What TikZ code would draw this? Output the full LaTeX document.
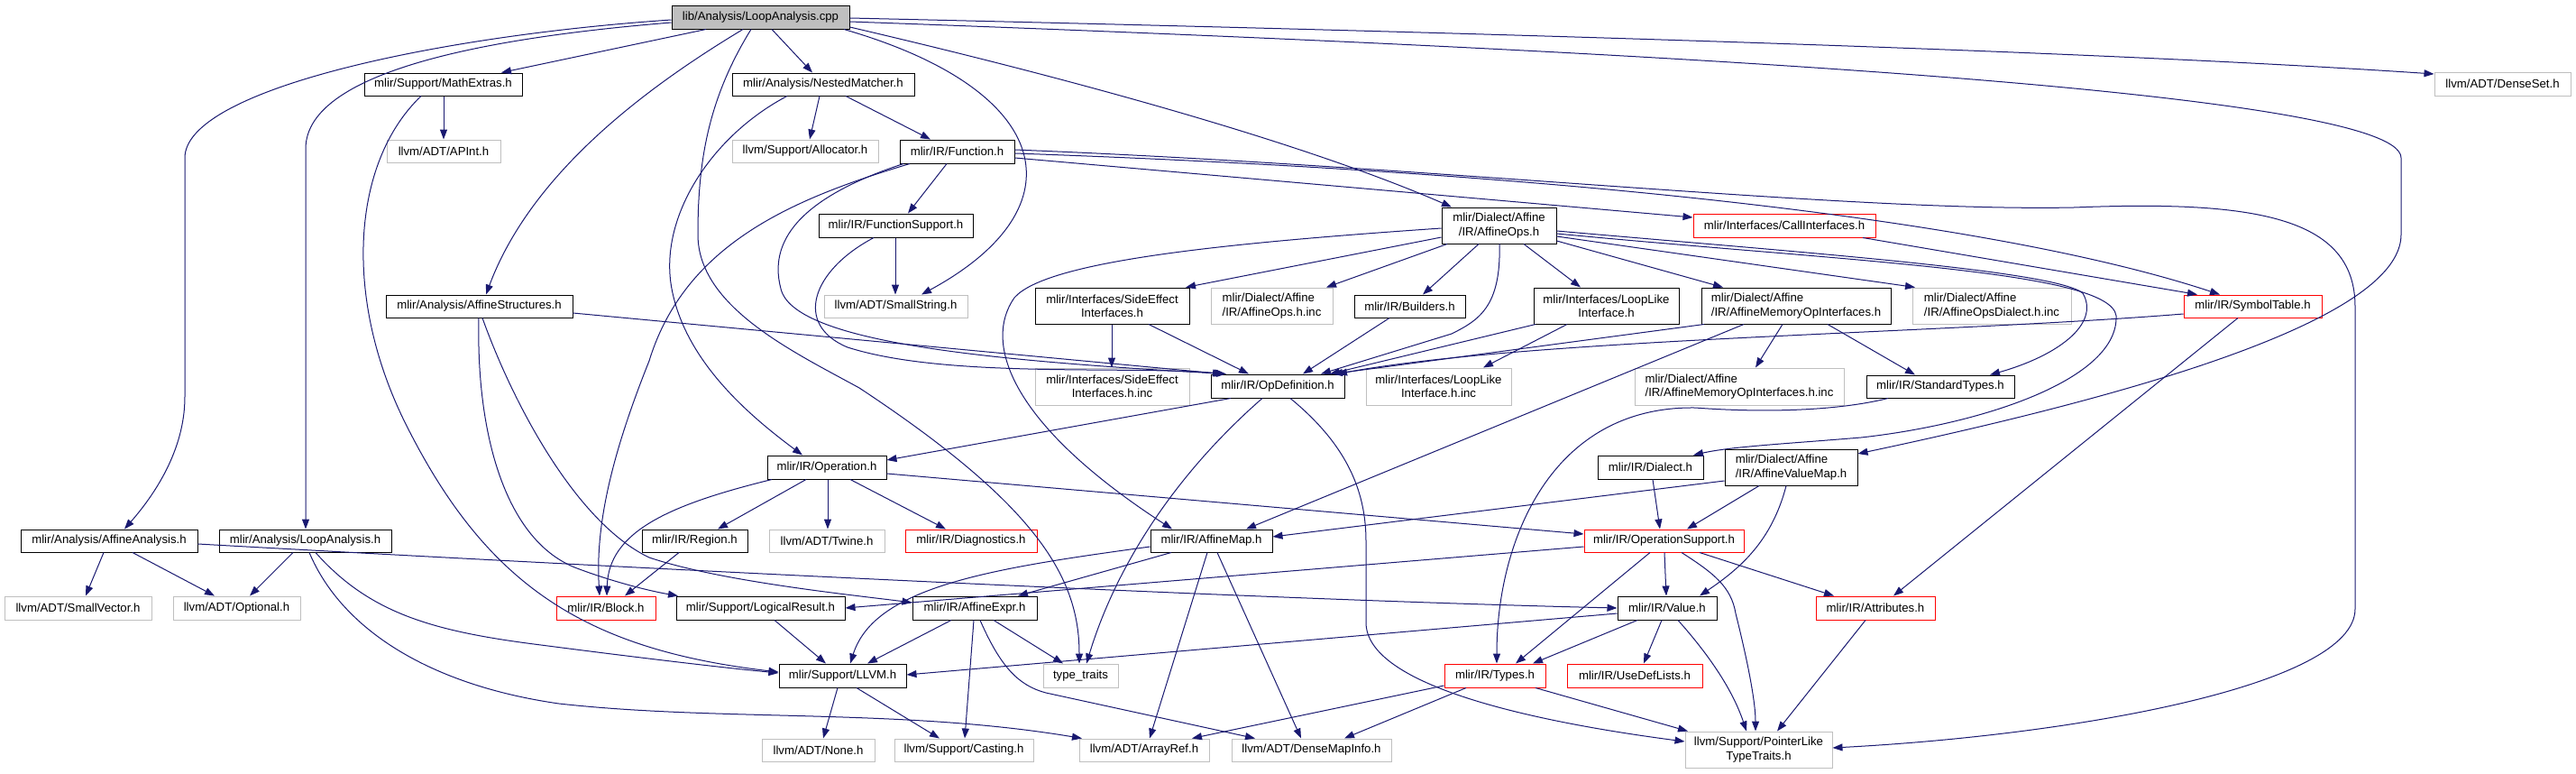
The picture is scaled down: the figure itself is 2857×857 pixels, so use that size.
\documentclass[tikz,border=0pt]{standalone}
\usepackage{fontspec}
\setmainfont{Liberation Sans}
\usetikzlibrary{arrows.meta}
\definecolor{edgeblue}{RGB}{25,25,112}
\definecolor{grayb}{RGB}{191,191,191}
\definecolor{rootgray}{RGB}{191,191,191}
\newcommand\fs{\fontsize{13.2}{15.3}\selectfont}
\newcommand\bx[7]{\node[#1,minimum width={#5-#3},minimum height={#6-#4}] (#2) at ({(#3+#5)/2},{(#4+#6)/2}) {#7};}
\tikzset{
  box/.style={draw, line width=1pt, inner sep=0pt, font=\fs, align=center, fill=white},
  blk/.style={box, draw=black},
  gry/.style={box, draw=grayb},
  rbox/.style={box, draw=red},
  rt/.style={box, draw=black, fill=rootgray},
  lft/.style={align=left},
  ln/.style={draw=edgeblue, line width=1pt, -{Triangle[length=11pt,width=8pt]}}
}
\begin{document}
\begin{tikzpicture}[x=1pt,y=-1pt]
\useasboundingbox (0,0) rectangle (2857,857);
% nodes
\bx{rt}{root}{745}{6}{942}{32}{lib/Analysis/LoopAnalysis.cpp}
\bx{blk}{math}{404}{81}{579}{106}{mlir/Support/MathExtras.h}
\bx{blk}{nested}{812}{81}{1014}{106}{mlir/Analysis/NestedMatcher.h}
\bx{gry}{denseset}{2700}{80}{2851}{106}{llvm/ADT/DenseSet.h}
\bx{gry}{apint}{429}{155}{555}{180}{llvm/ADT/APInt.h}
\bx{gry}{alloc}{812}{155}{974}{180}{llvm/Support/Allocator.h}
\bx{blk}{func}{998}{155}{1125}{181}{mlir/IR/Function.h}
\bx{blk}{funcsup}{908}{237}{1079}{263}{mlir/IR/FunctionSupport.h}
\bx{rbox}{callif}{1878}{237}{2080}{263}{mlir/Interfaces/CallInterfaces.h}
\bx{blk}{affops}{1599}{230}{1726}{270}{mlir/Dialect/Affine\\/IR/AffineOps.h}
\bx{blk}{affstruct}{428}{327}{635}{352}{mlir/Analysis/AffineStructures.h}
\bx{gry}{smallstr}{914}{327}{1073}{352}{llvm/ADT/SmallString.h}
\bx{blk}{sideeff}{1148}{319}{1319}{359}{mlir/Interfaces/SideEffect\\Interfaces.h}
\bx{gry,lft}{affopsinc}{1343}{319}{1478}{359}{mlir/Dialect/Affine\\/IR/AffineOps.h.inc}
\bx{blk}{builders}{1502}{327}{1625}{352}{mlir/IR/Builders.h}
\bx{blk}{looplike}{1701}{319}{1862}{359}{mlir/Interfaces/LoopLike\\Interface.h}
\bx{blk,lft}{affmem}{1887}{319}{2097}{359}{mlir/Dialect/Affine\\/IR/AffineMemoryOpInterfaces.h}
\bx{gry,lft}{affdialinc}{2121}{319}{2297}{359}{mlir/Dialect/Affine\\/IR/AffineOpsDialect.h.inc}
\bx{rbox}{symtab}{2422}{327}{2575}{352}{mlir/IR/SymbolTable.h}
\bx{blk}{opdef}{1343}{415}{1491}{441}{mlir/IR/OpDefinition.h}
\bx{gry}{sideinc}{1148}{408}{1319}{449}{mlir/Interfaces/SideEffect\\Interfaces.h.inc}
\bx{gry}{loopinc}{1515}{408}{1676}{449}{mlir/Interfaces/LoopLike\\Interface.h.inc}
\bx{gry,lft}{affmeminc}{1813}{408}{2045}{449}{mlir/Dialect/Affine\\/IR/AffineMemoryOpInterfaces.h.inc}
\bx{blk}{stdtypes}{2070}{416}{2234}{441}{mlir/IR/StandardTypes.h}
\bx{blk}{operation}{851}{505}{983}{531}{mlir/IR/Operation.h}
\bx{blk}{dialect}{1772}{505}{1889}{531}{mlir/IR/Dialect.h}
\bx{blk,lft}{affvmap}{1913}{498}{2060}{538}{mlir/Dialect/Affine\\/IR/AffineValueMap.h}
\bx{blk}{affana}{23}{587}{219}{612}{mlir/Analysis/AffineAnalysis.h}
\bx{blk}{loopana}{243}{587}{434}{612}{mlir/Analysis/LoopAnalysis.h}
\bx{blk}{region}{712}{587}{829}{612}{mlir/IR/Region.h}
\bx{gry}{twine}{853}{587}{981}{612}{llvm/ADT/Twine.h}
\bx{rbox}{diag}{1004}{587}{1150}{612}{mlir/IR/Diagnostics.h}
\bx{blk}{affmap}{1276}{587}{1411}{612}{mlir/IR/AffineMap.h}
\bx{rbox}{opsup}{1757}{587}{1934}{612}{mlir/IR/OperationSupport.h}
\bx{gry}{smallvec}{5}{661}{168}{687}{llvm/ADT/SmallVector.h}
\bx{gry}{optional}{192}{661}{333}{687}{llvm/ADT/Optional.h}
\bx{rbox}{block}{617}{661}{727}{687}{mlir/IR/Block.h}
\bx{blk}{logres}{750}{661}{937}{687}{mlir/Support/LogicalResult.h}
\bx{blk}{affexpr}{1012}{661}{1150}{687}{mlir/IR/AffineExpr.h}
\bx{blk}{value}{1794}{661}{1904}{687}{mlir/IR/Value.h}
\bx{rbox}{attrs}{2014}{661}{2146}{687}{mlir/IR/Attributes.h}
\bx{blk}{llvmh}{864}{736}{1005}{762}{mlir/Support/LLVM.h}
\bx{gry}{typetraits}{1157}{736}{1240}{762}{type\_traits}
\bx{rbox}{types}{1602}{736}{1714}{762}{mlir/IR/Types.h}
\bx{rbox}{usedef}{1738}{736}{1888}{762}{mlir/IR/UseDefLists.h}
\bx{gry}{none}{845}{819}{970}{844}{llvm/ADT/None.h}
\bx{gry}{casting}{992}{819}{1146}{844}{llvm/Support/Casting.h}
\bx{gry}{arrayref}{1197}{819}{1341}{844}{llvm/ADT/ArrayRef.h}
\bx{gry}{densemap}{1366}{819}{1543}{844}{llvm/ADT/DenseMapInfo.h}
\bx{gry}{ptrlike}{1869}{811}{2032}{851}{llvm/Support/PointerLike\\TypeTraits.h}
% edges from root
\draw[ln] (root.west |- 0,22) .. controls (480,40) and (205,100) .. (205,175) -- (205,440) .. controls (205,500) and (170,550) .. (affana.north -| 138,0);
\draw[ln] (root.west |- 0,25) .. controls (560,40) and (339,75) .. (339,165) -- (loopana.north -| 339,0);
\draw[ln] (root.south -| 783,0) -- (math.north -| 556,0);
\draw[ln] (root.south -| 824,0) .. controls (720,95) and (590,190) .. (affstruct.north -| 539,0);
\draw[ln] (root.south -| 856,0) -- (nested.north -| 901,0);
\draw[ln] (root.south -| 833,0) .. controls (785,110) and (774,180) .. (774,260) .. controls (774,340) and (880,390) .. (953,430) .. controls (1150,560) and (1197,640) .. (typetraits.north -| 1197,0);
\draw[ln] (root.south -| 936,0) .. controls (1170,100) and (1200,230) .. (smallstr.north -| 1022,0);
\draw[ln] (root.east |- 0,30) .. controls (1200,90) and (1450,160) .. (affops.north -| 1610,0);
\draw[ln] (root.east |- 0,20) .. controls (1600,35) and (2300,55) .. (denseset.west |- 0,82);
\draw[ln] (root.east |- 0,24) .. controls (1800,55) and (2663,100) .. (2663,175) -- (2663,260) .. controls (2663,330) and (2500,410) .. (affvmap.east |- 0,503);
% math, nested
\draw[ln] (math.south -| 492,0) -- (apint.north -| 492,0);
\draw[ln] (math.south -| 467,0) .. controls (390,180) and (380,330) .. (450,470) .. controls (540,650) and (650,720) .. (llvmh.west |- 0,745);
\draw[ln] (nested.south -| 909,0) -- (alloc.north -| 898,0);
\draw[ln] (nested.south -| 938,0) -- (func.north -| 1032,0);
\draw[ln] (nested.south -| 873,0) .. controls (790,150) and (730,240) .. (745,320) .. controls (760,400) and (830,460) .. (operation.north -| 890,0);
% function
\draw[ln] (func.south -| 1050,0) -- (funcsup.north -| 1007,0);
\draw[ln] (func.south -| 1009,0) .. controls (880,220) and (760,270) .. (720,400) .. controls (680,500) and (660,580) .. (block.north -| 665,0);
\draw[ln] (func.south -| 1002,0) .. controls (900,215) and (850,260) .. (866,320) .. controls (880,380) and (1100,400) .. (opdef.north -| 1360,0);
\draw[ln] (func.east |- 0,170) .. controls (1700,190) and (2200,240) .. (symtab.north -| 2462,0);
\draw[ln] (func.east |- 0,175) -- (callif.west |- 0,241);
\draw[ln] (func.east |- 0,166) .. controls (1600,185) and (2050,235) .. (2300,230) .. controls (2500,222) and (2612,240) .. (2612,340) -- (2612,675) .. controls (2612,760) and (2300,815) .. (ptrlike.east |- 0,829);
\draw[ln] (funcsup.south -| 993,0) -- (smallstr.north -| 993,0);
\draw[ln] (funcsup.south -| 969,0) .. controls (900,300) and (880,360) .. (940,385) .. controls (1050,420) and (1250,405) .. (opdef.north -| 1358,0);
\draw[ln] (callif.south -| 2066,0) -- (symtab.north -| 2437,0);
% affine ops
\draw[ln] (affops.west |- 0,263) -- (sideeff.north -| 1315,0);
\draw[ln] (affops.south -| 1605,0) -- (affopsinc.north -| 1471,0);
\draw[ln] (affops.south -| 1640,0) -- (builders.north -| 1578,0);
\draw[ln] (affops.south -| 1663,0) .. controls (1665,340) and (1640,355) .. (1610,370) -- (opdef.north -| 1465,0);
\draw[ln] (affops.south -| 1690,0) -- (looplike.north -| 1753,0);
\draw[ln] (affops.east |- 0,267) -- (affmem.north -| 1911,0);
\draw[ln] (affops.east |- 0,262) -- (affdialinc.north -| 2124,0);
\draw[ln] (affops.east |- 0,256) .. controls (2000,280) and (2280,300) .. (2310,325) .. controls (2330,360) and (2280,395) .. (stdtypes.north -| 2207,0);
\draw[ln] (affops.east |- 0,259) .. controls (2050,290) and (2340,300) .. (2347,350) .. controls (2350,420) and (2200,470) .. (2064,485) .. controls (1980,492) and (1920,495) .. (dialect.north -| 1878,0);
\draw[ln] (affops.west |- 0,253) .. controls (1350,270) and (1160,290) .. (1125,330) .. controls (1090,380) and (1120,470) .. (affmap.north -| 1300,0);
\draw[ln] (affmem.south -| 1977,0) -- (affmeminc.north -| 1947,0);
\draw[ln] (affmem.south -| 2027,0) -- (stdtypes.north -| 2124,0);
\draw[ln] (affmem.south -| 1890,0) -- (opdef.north -| 1478,0);
\draw[ln] (affmem.south -| 1934,0) -- (affmap.north -| 1382,0);
\draw[ln] (symtab.west |- 0,348) .. controls (2150,370) and (1700,375) .. (opdef.north -| 1483,0);
\draw[ln] (symtab.south -| 2482,0) -- (attrs.north -| 2100,0);
\draw[ln] (stdtypes.south -| 2094,0) .. controls (2040,455) and (1960,458) .. (1880,452) .. controls (1720,450) and (1660,600) .. (types.north -| 1660,0);
% opdefinition and interfaces
\draw[ln] (opdef.south -| 1365,0) -- (operation.east |- 0,510);
\draw[ln] (opdef.south -| 1400,0) .. controls (1310,520) and (1240,620) .. (typetraits.north -| 1205,0);
\draw[ln] (opdef.south -| 1431,0) .. controls (1490,490) and (1515,540) .. (1515,600) -- (1515,690) .. controls (1515,760) and (1700,800) .. (ptrlike.west |- 0,822);
\draw[ln] (sideeff.south -| 1233,0) -- (sideinc.north -| 1233,0);
\draw[ln] (sideeff.south -| 1274,0) -- (opdef.north -| 1385,0);
\draw[ln] (builders.south -| 1541,0) -- (opdef.north -| 1445,0);
\draw[ln] (looplike.south -| 1738,0) -- (loopinc.north -| 1645,0);
\draw[ln] (looplike.south -| 1703,0) -- (opdef.north -| 1475,0);
% analysis headers
\draw[ln] (affana.south -| 115,0) -- (smallvec.north -| 95,0);
\draw[ln] (affana.south -| 147,0) -- (optional.north -| 238,0);
\draw[ln] (affana.east |- 0,603) .. controls (700,630) and (1400,665) .. (value.west |- 0,674);
\draw[ln] (loopana.south -| 325,0) -- (optional.north -| 277,0);
\draw[ln] (loopana.south -| 350,0) .. controls (410,680) and (480,700) .. (600,715) .. controls (700,728) and (800,740) .. (llvmh.west |- 0,746);
\draw[ln] (loopana.south -| 343,0) .. controls (380,700) and (480,760) .. (620,780) .. controls (800,800) and (1000,785) .. (arrayref.north -| 1200,0);
\draw[ln] (affstruct.east |- 0,347) -- (opdef.north -| 1356,0);
\draw[ln] (affstruct.south -| 531,0) .. controls (528,480) and (560,600) .. (640,630) .. controls (680,645) and (720,655) .. (logres.north -| 752,0);
\draw[ln] (affstruct.south -| 535,0) .. controls (570,450) and (640,580) .. (720,618) .. controls (800,645) and (950,660) .. (affexpr.west |- 0,668);
% operation
\draw[ln] (operation.south -| 856,0) .. controls (740,560) and (675,590) .. (block.north -| 673,0);
\draw[ln] (operation.south -| 894,0) -- (region.north -| 796,0);
\draw[ln] (operation.south -| 918,0) -- (twine.north -| 918,0);
\draw[ln] (operation.south -| 943,0) -- (diag.north -| 1049,0);
\draw[ln] (operation.east |- 0,525) -- (opsup.west |- 0,592);
\draw[ln] (region.south -| 753,0) -- (block.north -| 693,0);
\draw[ln] (dialect.south -| 1833,0) -- (opsup.north -| 1841,0);
\draw[ln] (affvmap.west |- 0,533) -- (affmap.east |- 0,595);
\draw[ln] (affvmap.south -| 1951,0) -- (opsup.north -| 1871,0);
\draw[ln] (affvmap.south -| 1981,0) .. controls (1965,600) and (1930,630) .. (value.north -| 1885,0);
% operation support
\draw[ln] (opsup.west |- 0,606) -- (logres.east |- 0,674);
\draw[ln] (opsup.south -| 1830,0) -- (types.north -| 1681,0);
\draw[ln] (opsup.south -| 1846,0) -- (value.north -| 1848,0);
\draw[ln] (opsup.south -| 1885,0) -- (attrs.north -| 2034,0);
\draw[ln] (opsup.south -| 1865,0) .. controls (1900,635) and (1920,650) .. (1925,680) .. controls (1940,740) and (1947,780) .. (ptrlike.north -| 1947,0);
\draw[ln] (value.west |- 0,680) -- (llvmh.east |- 0,748);
\draw[ln] (value.south -| 1816,0) -- (types.north -| 1700,0);
\draw[ln] (value.south -| 1843,0) -- (usedef.north -| 1823,0);
\draw[ln] (value.south -| 1861,0) .. controls (1890,720) and (1920,760) .. (ptrlike.north -| 1937,0);
\draw[ln] (types.west |- 0,760) -- (arrayref.north -| 1322,0);
\draw[ln] (types.south -| 1626,0) -- (densemap.north -| 1491,0);
\draw[ln] (types.south -| 1703,0) -- (ptrlike.north -| 1872,0);
\draw[ln] (attrs.south -| 2069,0) -- (ptrlike.north -| 1971,0);
% affine map / expr
\draw[ln] (affmap.west |- 0,606) .. controls (1100,630) and (970,650) .. (llvmh.north -| 943,0);
\draw[ln] (affmap.south -| 1299,0) -- (affexpr.north -| 1129,0);
\draw[ln] (affmap.south -| 1339,0) -- (arrayref.north -| 1275,0);
\draw[ln] (affmap.south -| 1350,0) -- (densemap.north -| 1443,0);
\draw[ln] (affexpr.south -| 1055,0) -- (llvmh.north -| 962,0);
\draw[ln] (affexpr.south -| 1080,0) -- (casting.north -| 1070,0);
\draw[ln] (affexpr.south -| 1102,0) -- (typetraits.north -| 1179,0);
\draw[ln] (affexpr.south -| 1087,0) .. controls (1110,740) and (1130,760) .. (1160,768) -- (densemap.north -| 1392,0);
\draw[ln] (logres.south -| 859,0) -- (llvmh.north -| 916,0);
\draw[ln] (llvmh.south -| 929,0) -- (none.north -| 913,0);
\draw[ln] (llvmh.south -| 950,0) -- (casting.north -| 1042,0);
\end{tikzpicture}
\end{document}
